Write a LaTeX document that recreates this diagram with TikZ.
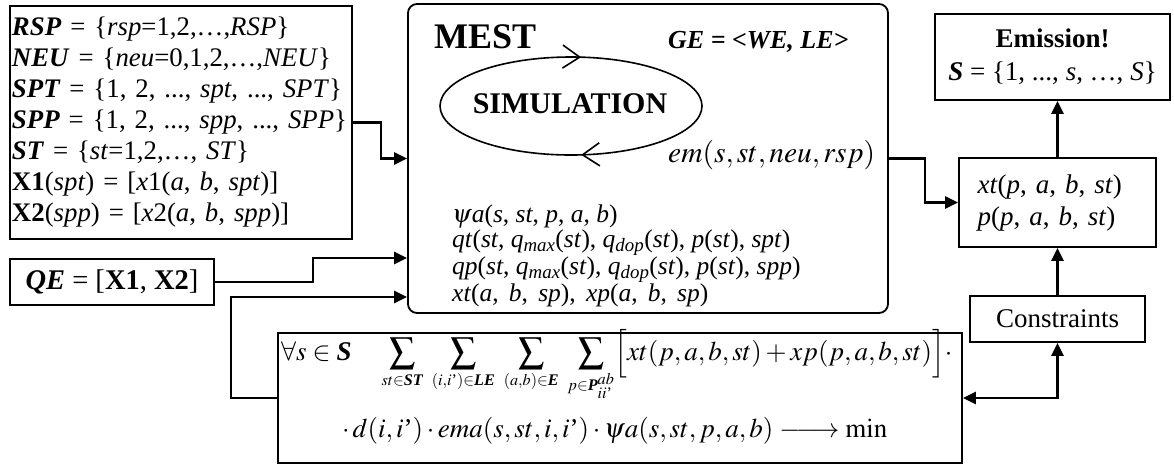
\documentclass[tikz,border=0pt]{standalone}
\usepackage{amsmath}
\usepackage{graphicx}
\usepackage{mathptmx}
\usepackage[no-math]{fontspec}
\setmainfont{Liberation Serif}
\usetikzlibrary{arrows.meta,decorations.markings,calc}
\newcommand\I[1]{\textit{#1}}
\newcommand\BI[1]{\textbf{\textit{#1}}}
\newcommand\BIm[1]{\text{\bfseries\itshape #1}}
\newcommand\apo{\text{'}}
\newcommand\Sm{\mathop{\vcenter{\hbox{\scalebox{0.95}{$\displaystyle\sum$}}}}\limits}
\newcommand\wsp{\hspace{0.4em}}
\begin{document}
\begin{tikzpicture}[x=1pt,y=-1pt,
  box/.style={draw, line width=1.8pt, inner sep=0pt},
  conn/.style={line width=2.6pt, -{Triangle[length=13pt,width=12pt]}},
  connboth/.style={line width=2.6pt, {Triangle[length=13pt,width=12pt]}-{Triangle[length=13pt,width=12pt]}},
  plain/.style={inner sep=0pt}]
\useasboundingbox (0,0) rectangle (1174,467);

% left box
\node[box, minimum width=342pt, minimum height=233pt, text width=338pt, align=left,
      font=\fontsize{26.8}{31}\selectfont] (lbox) at (181,122.5)
{\BI{RSP} = \{\I{rsp}=1,2,…,\I{RSP}\}\\
 \BI{NEU} = \{\I{neu}=0,1,2,…,\I{NEU}\}\\
 \BI{SPT} = \{1, 2, ..., \I{spt}, ..., \I{SPT}\}\\
 \BI{SPP} = \{1, 2, ..., \I{spp}, ..., \I{SPP}\}\\
 \BI{ST} = \{\I{st}=1,2,…, \I{ST}\}\\
 \textbf{X1}(\I{spt}) = [\I{x}1(\I{a}, \I{b}, \I{spt})]\\
 \textbf{X2}(\I{spp}) = [\I{x}2(\I{a}, \I{b}, \I{spp})]};

% QE box
\node[box, minimum width=204pt, minimum height=46pt, font=\fontsize{28.5}{32}\selectfont] (qe) at (112,282)
{\BI{QE} = [\textbf{X1}, \textbf{X2}]};

% MEST box
\node[box, rounded corners=9pt, minimum width=480pt, minimum height=309pt] (mest) at (648,158.5) {};
\node[plain, anchor=west, font=\fontsize{36}{36}\selectfont\bfseries] (mtitle) at (434,37) {MEST};
\node[plain, anchor=west, font=\fontsize{26}{30}\selectfont\bfseries\itshape] (ge) at (668,42) {GE = <WE, LE>};
\node[plain, font=\fontsize{30}{30}\selectfont\bfseries] (sim) at (570,104) {SIMULATION};
\draw[line width=1.6pt, postaction={decorate},
  decoration={markings,
    mark=at position 0.233 with {\arrow{Straight Barb[length=17pt,width=23pt]}},
    mark=at position 0.767 with {\arrow{Straight Barb[length=17pt,width=23pt]}}}]
  (571,106) ellipse [x radius=131, y radius=49];
\node[plain, anchor=west, font=\fontsize{29.5}{30}\selectfont] (emv) at (668,155) {$em(s,st,neu,rsp)$};
\node[plain, anchor=north west, align=left, font=\fontsize{25.5}{24.5}\selectfont] (mvars) at (452,205)
{$\psi$\I{a}(\I{s}, \I{st}, \I{p}, \I{a}, \I{b})\\
 \I{qt}(\I{st}, \I{q}\textsubscript{\I{max}}(\I{st}), \I{q}\textsubscript{\I{dop}}(\I{st}), \I{p}(\I{st}), \I{spt})\\
 \I{qp}(\I{st}, \I{q}\textsubscript{\I{max}}(\I{st}), \I{q}\textsubscript{\I{dop}}(\I{st}), \I{p}(\I{st}), \I{spp})\\
 \I{xt}(\I{a},\wsp\I{b},\wsp\I{sp}),\wsp\I{xp}(\I{a},\wsp\I{b},\wsp\I{sp})};

% Emission box
\node[box, minimum width=235pt, minimum height=86pt, align=center, font=\fontsize{27}{33}\selectfont] (emis) at (1052.5,57)
{\textbf{Emission!}\\ \BI{S} = \{1, ..., \I{s}, …, \I{S}\}};

% xt box
\node[box, minimum width=197pt, minimum height=89pt, text width=160pt, align=left, font=\fontsize{27}{32}\selectfont] (xt) at (1057.5,202.5)
{\I{xt}(\I{p}, \I{a}, \I{b}, \I{st})\\ \I{p}(\I{p}, \I{a}, \I{b}, \I{st})};

% Constraints
\node[box, minimum width=175pt, minimum height=46pt, font=\fontsize{27}{30}\selectfont] (cons) at (1057.5,319) {Constraints};

% objective box
\node[box, minimum width=684pt, minimum height=130pt] (obj) at (620,398) {};
\node[plain, anchor=base west, font=\fontsize{27}{30}\selectfont] (f1) at (281,360)
{$\displaystyle \forall s\in\BIm{S}\quad \Sm_{\scriptscriptstyle st\in \BIm{ST}}\;\Sm_{\scriptscriptstyle (i,i\apo)\in\BIm{LE}}\;\Sm_{\scriptscriptstyle (a,b)\in\BIm{E}}\;\Sm_{\scriptscriptstyle p\in\BIm{P}_{ii\apo}^{ab}}\Bigl[xt(p,a,b,st)+xp(p,a,b,st)\Bigr]\cdot$};
\node[plain, anchor=base west, font=\fontsize{27}{30}\selectfont] (f2) at (342,437)
{$\cdot\, d(i,i\apo)\cdot ema(s,st,i,i\apo)\cdot \psi a(s,st,p,a,b)\mathrel{\relbar\joinrel\longrightarrow}\mathrm{min}$};

% connectors
\draw[conn] (lbox.east) -- ++(28,0) |- (mest.west);
\draw[conn] (qe.east) -- ++(98,0) |- ([yshift=-99.5pt]mest.west);
\draw[conn] (obj.west) -- ++(-46,0) |- ([yshift=-138.5pt]mest.west);
\draw[conn] (mest.east) -- ++(36,0) |- (xt.west);
\draw[conn] (xt.north) -- (xt.north |- emis.south);
\draw[conn] (cons.north) -- (xt.south);
\draw[connboth] (cons.south) |- (obj.east);
\end{tikzpicture}
\end{document}
